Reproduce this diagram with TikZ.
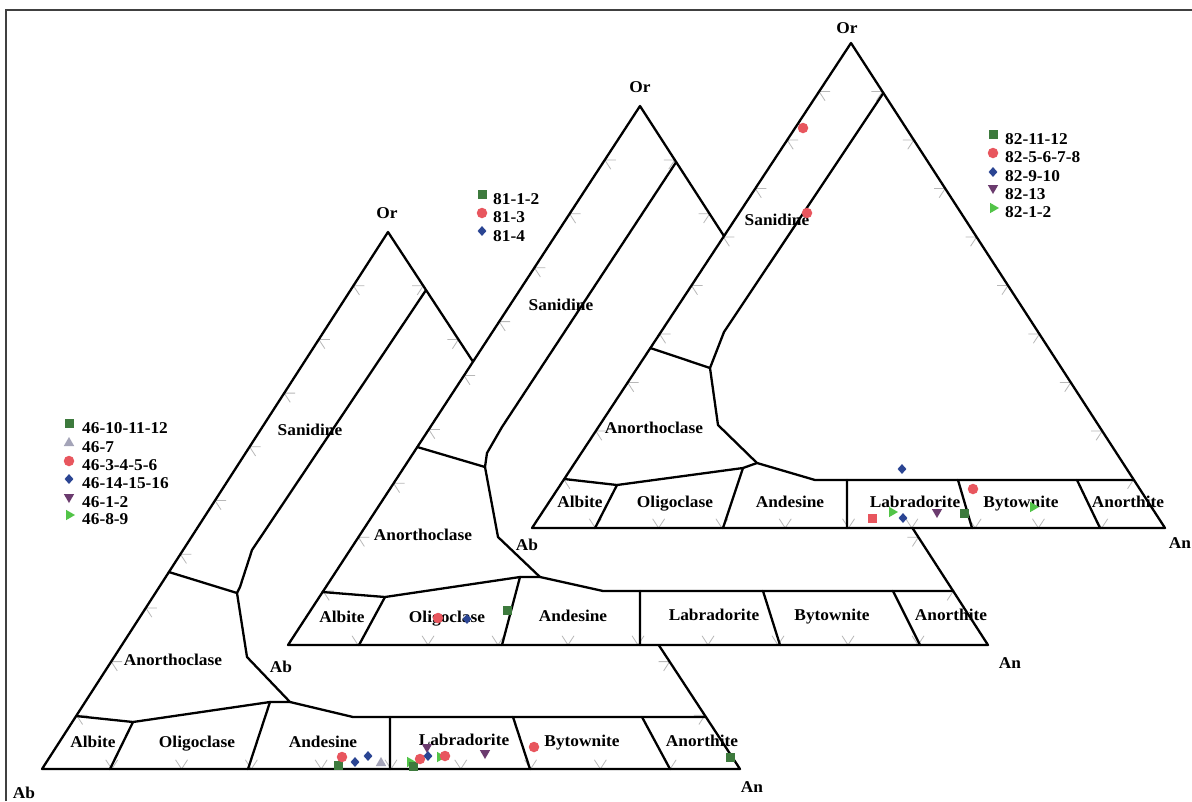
\documentclass[tikz,border=0pt]{standalone}
\usepackage{fontspec}
\setmainfont{Liberation Serif}[FakeStretch=1.05]
\usetikzlibrary{shapes.geometric,calc}
\definecolor{mgreen}{HTML}{3D7A3D}
\definecolor{mgray}{HTML}{A4A4B8}
\definecolor{mred}{HTML}{E8565E}
\definecolor{mblue}{HTML}{2B4593}
\definecolor{mpurple}{HTML}{6B3B6E}
\definecolor{mlgreen}{HTML}{52C448}
\newcommand\tklen{11pt}
\newcommand\ternticks[3]{%
  \foreach \k in {1,...,9}{%
    \pgfmathsetmacro\ff{\k/10}%
    \path ($(#1)!\ff!(#2)$) coordinate (tp) ($(#3)!\ff!(#2)$) coordinate (tq) ($(#1)!\ff!(#3)$) coordinate (tr);
    \draw[tick] (tp) -- ($(tp)!\tklen!(tq)$) (tp) -- ($(tp)!\tklen!(tr)$);
    \path ($(#1)!\ff!(#3)$) coordinate (tp) ($(#2)!\ff!(#3)$) coordinate (tq) ($(#1)!\ff!(#2)$) coordinate (tr);
    \draw[tick] (tp) -- ($(tp)!\tklen!(tq)$) (tp) -- ($(tp)!\tklen!(tr)$);
    \path ($(#2)!\ff!(#3)$) coordinate (tp) ($(#1)!\ff!(#3)$) coordinate (tq) ($(#2)!\ff!(#1)$) coordinate (tr);
    \draw[tick] (tp) -- ($(tp)!\tklen!(tq)$) (tp) -- ($(tp)!\tklen!(tr)$);
  }}
\tikzset{
  edge/.style={line width=2.3pt, line join=round, line cap=round},
  tick/.style={draw=black!28, line width=0.8pt},
  frameline/.style={draw=black!75, line width=1.3pt},
  lab/.style={font=\fontsize{16.5}{18}\selectfont\bfseries, inner sep=0pt, anchor=base},
  leg/.style={font=\fontsize{16.5}{18}\selectfont\bfseries, inner sep=0pt, anchor=base west},
  msq/.style={rectangle, fill=mgreen, minimum size=9pt, inner sep=0pt},
  mci/.style={circle, fill=mred, minimum size=10.5pt, inner sep=0pt},
  mdi/.style={diamond, fill=mblue, minimum width=9pt, minimum height=10pt, inner sep=0pt},
  mtu/.style={regular polygon, regular polygon sides=3, fill=mgray, minimum size=12pt, inner sep=0pt},
  mtd/.style={regular polygon, regular polygon sides=3, shape border rotate=180, fill=mpurple, minimum size=12pt, inner sep=0pt},
  mtr/.style={regular polygon, regular polygon sides=3, shape border rotate=-90, fill=mlgreen, minimum size=12pt, inner sep=0pt},
}
\begin{document}
\begin{tikzpicture}[x=1pt,y=-1pt]
\useasboundingbox (0,0) rectangle (1192,801);
\fill[white] (0,0) rectangle (1192,801);
\draw[frameline] (6,801) -- (6,10) -- (1192,10);

% ================= Diagram 1 =================
\coordinate (Ab1) at (42,769);
\coordinate (An1) at (740,769);
\coordinate (Or1) at (388,232);
\ternticks{Ab1}{An1}{Or1}
\draw[edge] (Ab1) -- (An1) -- (Or1) -- cycle;
\coordinate (s1) at (intersection of An1--Or1 and 0,290--10,290);
\coordinate (a1) at (intersection of Ab1--Or1 and 0,572--10,572);
\coordinate (b1) at (intersection of Ab1--Or1 and 0,716--10,716);
\coordinate (t1) at (intersection of An1--Or1 and 0,717--10,717);
\draw[edge] (s1) -- (252,550) -- (240,587) -- (237,593) -- (247,657) -- (290,702) -- (353,717) -- (t1);
\draw[edge] (a1) -- (237,593);
\draw[edge] (b1) -- (133,722) -- (270,702) -- (290,702);
\draw[edge] (133,722) -- (110,769) (270,702) -- (248,769) (390,717) -- (390,769)
  (513,717) -- (530,769) (642,717) -- (670,769);
\node[lab] (l1san) at (310,435) {Sanidine};
\node[lab] (l1ano) at (173,665) {Anorthoclase};
\node[lab] (l1alb) at (93,747) {Albite};
\node[lab] (l1oli) at (197,747) {Oligoclase};
\node[lab] (l1and) at (323,747) {Andesine};
\node[lab] (l1lab) at (464,745) {Labradorite};
\node[lab] (l1byt) at (582,746) {Bytownite};
\node[lab] (l1anr) at (702,746) {Anorthite};
\node[lab] (l1Ab) at (24,798) {Ab};
\node[lab] (l1An) at (752,792) {An};
\node[lab] (l1Or) at (387,218) {Or};
% data
\node[msq] (d1a) at (338,765) {};
\node[mci] (d1b) at (342,757) {};
\node[mdi] (d1c) at (355,762) {};
\node[mdi] (d1d) at (368,756) {};
\node[mtu] (d1e) at (381,763) {};
\node[mtr] (d1f) at (410,762) {};
\node[msq] (d1g) at (413,766) {};
\node[mci] (d1h) at (420,759) {};
\node[mtd] (d1i) at (427,747) {};
\node[mdi] (d1j) at (428,756) {};
\node[mtr] (d1k) at (440,757) {};
\node[mci] (d1l) at (445,756) {};
\node[mtd] (d1m) at (485,753) {};
\node[mci] (d1n) at (534,747) {};
\node[msq] (d1o) at (730,757) {};
% legend
\node[msq] (g1a) at (69,423) {};
\node[mtu] (g1b) at (69,443) {};
\node[mci] (g1c) at (69,461) {};
\node[mdi] (g1d) at (69,479) {};
\node[mtd] (g1e) at (69,497) {};
\node[mtr] (g1f) at (69,515) {};
\node[leg] (h1a) at (82,433) {46-10-11-12};
\node[leg] (h1b) at (82,452) {46-7};
\node[leg] (h1c) at (82,470) {46-3-4-5-6};
\node[leg] (h1d) at (82,488) {46-14-15-16};
\node[leg] (h1e) at (82,507) {46-1-2};
\node[leg] (h1f) at (82,524) {46-8-9};

% ================= Diagram 2 =================
\coordinate (Ab2) at (288,645);
\coordinate (An2) at (988,645);
\coordinate (Or2) at (640,106);
\fill[white] (Ab2) -- (An2) -- (Or2) -- cycle;
\ternticks{Ab2}{An2}{Or2}
\draw[edge] (Ab2) -- (An2) -- (Or2) -- cycle;
\coordinate (s2) at (intersection of An2--Or2 and 0,162--10,162);
\coordinate (a2) at (intersection of Ab2--Or2 and 0,447--10,447);
\coordinate (b2) at (intersection of Ab2--Or2 and 0,592--10,592);
\coordinate (t2) at (intersection of An2--Or2 and 0,591--10,591);
\draw[edge] (s2) -- (502,427) -- (487,453) -- (485,467) -- (498,537) -- (540,577) -- (603,591) -- (t2);
\draw[edge] (a2) -- (485,467);
\draw[edge] (b2) -- (385,597) -- (520,577) -- (540,577);
\draw[edge] (385,597) -- (359,645) (520,577) -- (502,645) (640,591) -- (640,645)
  (763,591) -- (780,645) (893,591) -- (920,645);
\node[lab] (l2san) at (561,310) {Sanidine};
\node[lab] (l2ano) at (423,540) {Anorthoclase};
\node[lab] (l2alb) at (342,622) {Albite};
\node[lab] (l2oli) at (447,622) {Oligoclase};
\node[lab] (l2and) at (573,621) {Andesine};
\node[lab] (l2lab) at (714,620) {Labradorite};
\node[lab] (l2byt) at (832,620) {Bytownite};
\node[lab] (l2anr) at (951,620) {Anorthite};
\node[lab] (l2Ab) at (281,672) {Ab};
\node[lab] (l2An) at (1010,668) {An};
\node[lab] (l2Or) at (640,92) {Or};
\node[mci] (d2a) at (438,618) {};
\node[mdi] (d2b) at (467,619) {};
\node[msq] (d2c) at (507,610) {};
% legend
\node[msq] (g2a) at (482,194) {};
\node[mci] (g2b) at (482,213) {};
\node[mdi] (g2c) at (482,231) {};
\node[leg] (h2a) at (493,204) {81-1-2};
\node[leg] (h2b) at (493,222) {81-3};
\node[leg] (h2c) at (493,241) {81-4};

% ================= Diagram 3 =================
\coordinate (Ab3) at (532,528);
\coordinate (An3) at (1165,528);
\coordinate (Or3) at (851,43);
\fill[white] (Ab3) -- (An3) -- (Or3) -- cycle;
\ternticks{Ab3}{An3}{Or3}
\draw[edge] (Ab3) -- (An3) -- (Or3) -- cycle;
\coordinate (s3) at (intersection of An3--Or3 and 0,93--10,93);
\coordinate (a3) at (intersection of Ab3--Or3 and 0,348--10,348);
\coordinate (b3) at (intersection of Ab3--Or3 and 0,479--10,479);
\coordinate (t3) at (intersection of An3--Or3 and 0,480--10,480);
\draw[edge] (s3) -- (724,332) -- (710,368) -- (718,425) -- (757,463) -- (815,480) -- (t3);
\draw[edge] (a3) -- (710,368);
\draw[edge] (b3) -- (617,485) -- (743,468) -- (757,463);
\draw[edge] (617,485) -- (595,528) (743,468) -- (723,528) (847,480) -- (847,528)
  (958,480) -- (972,528) (1077,480) -- (1100,528);
\node[lab] (l3san) at (777,225) {Sanidine};
\node[lab] (l3ano) at (654,433) {Anorthoclase};
\node[lab] (l3alb) at (580,507) {Albite};
\node[lab] (l3oli) at (675,507) {Oligoclase};
\node[lab] (l3and) at (790,507) {Andesine};
\node[lab] (l3lab) at (915,507) {Labradorite};
\node[lab] (l3byt) at (1021,507) {Bytownite};
\node[lab] (l3anr) at (1128,507) {Anorthite};
\node[lab] (l3Ab) at (527,550) {Ab};
\node[lab] (l3An) at (1180,548) {An};
\node[lab] (l3Or) at (847,33) {Or};
\node[mci] (d3a) at (803,128) {};
\node[mci] (d3b) at (807,213) {};
\node[mdi] (d3c) at (902,469) {};
\node[msq, fill=mred] (d3d) at (872,518) {};
\node[mtr] (d3e) at (892,512) {};
\node[mdi] (d3f) at (903,518) {};
\node[mtd] (d3g) at (937,512) {};
\node[msq] (d3h) at (964,513) {};
\node[mci] (d3i) at (973,489) {};
\node[mtr] (d3j) at (1033,507) {};
% legend
\node[msq] (g3a) at (993,134) {};
\node[mci] (g3b) at (993,153) {};
\node[mdi] (g3c) at (993,172) {};
\node[mtd] (g3d) at (993,188) {};
\node[mtr] (g3e) at (993,208) {};
\node[leg] (h3a) at (1005,144) {82-11-12};
\node[leg] (h3b) at (1005,162) {82-5-6-7-8};
\node[leg] (h3c) at (1005,181) {82-9-10};
\node[leg] (h3d) at (1005,199) {82-13};
\node[leg] (h3e) at (1005,217) {82-1-2};
\end{tikzpicture}
\end{document}
